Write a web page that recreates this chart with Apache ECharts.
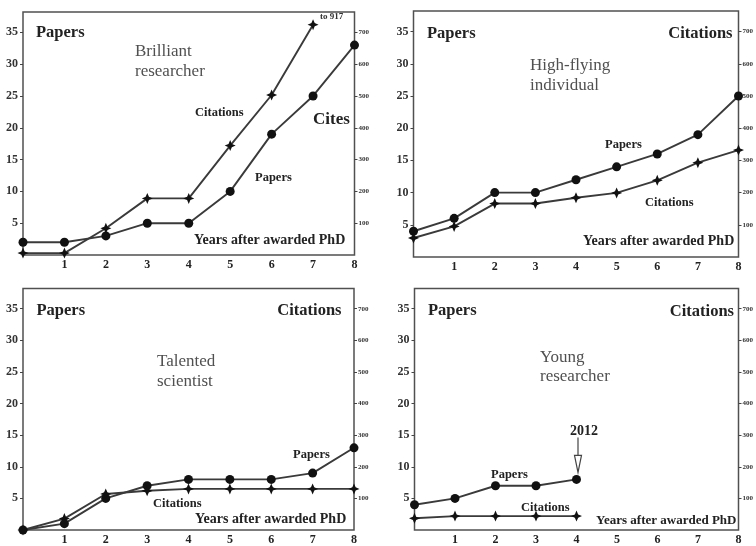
<!DOCTYPE html>
<html>
<head>
<meta charset="utf-8">
<script src="https://cdn.jsdelivr.net/npm/echarts@6/dist/echarts.min.js"></script>
<style>
html,body{margin:0;padding:0;background:#fff;}
#chart{width:756px;height:546px;}
</style>
</head>
<body>
<div id="chart"></div>
<script>
// ---- data ----
var years = [0, 1, 2, 3, 4, 5, 6, 7, 8];
var xTicks = [1, 2, 3, 4, 5, 6, 7, 8];
var paperTicks = [5, 10, 15, 20, 25, 30, 35];
var citationTicks = [100, 200, 300, 400, 500, 600, 700];

var brilliantPapers    = [2, 2, 3, 5, 5, 10, 19, 25, 33];
var brilliantCitations = [6, 6, 84, 178, 178, 344, 503, 724];
var highFlyingPapers    = [4, 6, 10, 10, 12, 14, 16, 19, 25];
var highFlyingCitations = [59, 95, 166, 166, 184, 199, 238, 293, 332];
var talentedPapers    = [0, 1, 5, 7, 8, 8, 8, 9, 13];
var talentedCitations = [0, 36, 114, 124, 130, 130, 130, 130, 130];
var youngPapers    = [4, 5, 7, 7, 8];
var youngCitations = [37, 44, 44, 44, 44];

var panelTitles = [["Brilliant", "researcher"], ["High-flying", "individual"], ["Talented", "scientist"], ["Young", "researcher"]];

// ---- layout ----
var FONT = '"Liberation Serif", "DejaVu Serif", serif';
var grids = [
  {left: 23, top: 12, width: 331.5, height: 243},
  {left: 413.5, top: 11, width: 333, height: 246},
  {left: 23, top: 288.5, width: 331, height: 244.5},
  {left: 414.5, top: 288.5, width: 332, height: 244.5}
];
var Y_MAX = 38.2, Y2_MAX = 764;
var starPath = 'path://M0,-10 L3,-3 L10,0 L3,3 L0,10 L-3,3 L-10,0 L-3,-3 Z';

var panelData = [
  [brilliantPapers, brilliantCitations],
  [highFlyingPapers, highFlyingCitations],
  [talentedPapers, talentedCitations],
  [youngPapers, youngCitations]
];

var xAxes = [], yAxes = [], series = [];
grids.forEach(function (g, i) {
  g.show = true; g.borderColor = '#505050'; g.borderWidth = 1.5; g.backgroundColor = 'transparent';
  xAxes.push({
    gridIndex: i, type: 'value', min: 0, max: 8, interval: 1,
    axisLine: {show: false}, splitLine: {show: false}, axisTick: {show: false},
    axisLabel: {
      customValues: xTicks,
      formatter: function (v) { return xTicks.indexOf(v) >= 0 ? String(v) : ''; },
      fontFamily: FONT, fontWeight: 'bold', fontSize: 12, color: '#222', margin: 4
    }
  });
  yAxes.push({
    gridIndex: i, type: 'value', min: 0, max: Y_MAX, interval: 5, position: 'left',
    axisLine: {show: false}, splitLine: {show: false},
    axisTick: {show: true, length: 3, customValues: paperTicks, lineStyle: {color: '#444', width: 1}},
    axisLabel: {
      customValues: paperTicks,
      formatter: function (v) { return paperTicks.indexOf(v) >= 0 ? String(v) : ''; },
      fontFamily: FONT, fontWeight: 'bold', fontSize: 12, color: '#333', margin: 5
    }
  });
  yAxes.push({
    gridIndex: i, type: 'value', min: 0, max: Y2_MAX, interval: 100, position: 'right',
    axisLine: {show: false}, splitLine: {show: false},
    axisTick: {show: true, length: 3, customValues: citationTicks, lineStyle: {color: '#444', width: 1}},
    axisLabel: {
      customValues: citationTicks,
      formatter: function (v) { return citationTicks.indexOf(v) >= 0 ? String(v) : ''; },
      fontFamily: FONT, fontWeight: 'bold', fontSize: 7, color: '#333', margin: 4
    }
  });
  var pd = panelData[i];
  series.push({
    type: 'line', xAxisIndex: i, yAxisIndex: 2 * i,
    data: pd[0].map(function (v, k) { return [years[k], v]; }),
    symbol: 'circle', symbolSize: 9,
    itemStyle: {color: '#111'},
    lineStyle: {color: '#3a3a3a', width: 1.9},
    animation: false, silent: true
  });
  series.push({
    type: 'line', xAxisIndex: i, yAxisIndex: 2 * i + 1,
    data: pd[1].map(function (v, k) { return [years[k], v]; }),
    symbol: starPath, symbolSize: 11,
    itemStyle: {color: '#111'},
    lineStyle: {color: '#3a3a3a', width: 1.9},
    animation: false, silent: true
  });
});

// ---- annotations ----
function txt(x, y, s, size, weight, align, color) {
  return {
    type: 'text', x: x, y: y, silent: true,
    style: {text: s, fontFamily: FONT, fontSize: size, fontWeight: weight || 'normal',
            fill: color || '#222', align: align || 'left', verticalAlign: 'middle'}
  };
}
var T = 16.5, S = 12.5, TITLE = 17, TC = '#505050';
var graphics = [
  // panel 1
  txt(36, 32.5, 'Papers', T, 'bold'),
  txt(135, 52, panelTitles[0][0], TITLE, 'normal', 'left', TC),
  txt(135, 72, panelTitles[0][1], TITLE, 'normal', 'left', TC),
  txt(195, 113, 'Citations', S, 'bold'),
  txt(313, 119.5, 'Cites', 17, 'bold'),
  txt(255, 178, 'Papers', S, 'bold'),
  txt(194, 240, 'Years after awarded PhD', 14, 'bold'),
  txt(320, 17, 'to 917', 9, 'bold', 'left', '#333'),
  // panel 2
  txt(427, 33.5, 'Papers', T, 'bold'),
  txt(732.5, 33.5, 'Citations', T, 'bold', 'right'),
  txt(530, 66, panelTitles[1][0], TITLE, 'normal', 'left', TC),
  txt(530, 85.5, panelTitles[1][1], TITLE, 'normal', 'left', TC),
  txt(605, 144.5, 'Papers', S, 'bold'),
  txt(645, 202.5, 'Citations', S, 'bold'),
  txt(583, 241.5, 'Years after awarded PhD', 14, 'bold'),
  // panel 3
  txt(36.5, 310.5, 'Papers', T, 'bold'),
  txt(341.5, 310.5, 'Citations', T, 'bold', 'right'),
  txt(157, 361.5, panelTitles[2][0], TITLE, 'normal', 'left', TC),
  txt(157, 381.5, panelTitles[2][1], TITLE, 'normal', 'left', TC),
  txt(293, 454.5, 'Papers', S, 'bold'),
  txt(153, 504, 'Citations', S, 'bold'),
  txt(195, 519, 'Years after awarded PhD', 14, 'bold'),
  // panel 4
  txt(428, 310.5, 'Papers', T, 'bold'),
  txt(734, 312, 'Citations', T, 'bold', 'right'),
  txt(540, 358, panelTitles[3][0], TITLE, 'normal', 'left', TC),
  txt(540, 376.5, panelTitles[3][1], TITLE, 'normal', 'left', TC),
  txt(570, 431.5, '2012', 14, 'bold'),
  txt(491, 474.5, 'Papers', S, 'bold'),
  txt(521, 507.5, 'Citations', S, 'bold'),
  txt(596, 520.5, 'Years after awarded PhD', 13, 'bold')
];

var chart = echarts.init(document.getElementById('chart'), null, {renderer: 'canvas'});
chart.setOption({
  animation: false,
  backgroundColor: '#fff',
  grid: grids, xAxis: xAxes, yAxis: yAxes, series: series,
  graphic: graphics
});

// arrow pointing at the last "Young researcher" papers point (2012)
var lastIdx = youngPapers.length - 1;
var p = chart.convertToPixel({xAxisIndex: 3, yAxisIndex: 6}, [years[lastIdx], youngPapers[lastIdx]]);
var tipY = p[1] - 7, ax = p[0] + 1.5;
graphics.push({
  type: 'line', silent: true,
  shape: {x1: ax, y1: tipY - 35, x2: ax, y2: tipY - 17},
  style: {stroke: '#444', lineWidth: 1.2}
});
graphics.push({
  type: 'polygon', silent: true,
  shape: {points: [[ax - 3.5, tipY - 17], [ax + 3.5, tipY - 17], [ax, tipY]]},
  style: {stroke: '#444', fill: '#fff', lineWidth: 1.2}
});
chart.setOption({graphic: graphics});
</script>
</body>
</html>
